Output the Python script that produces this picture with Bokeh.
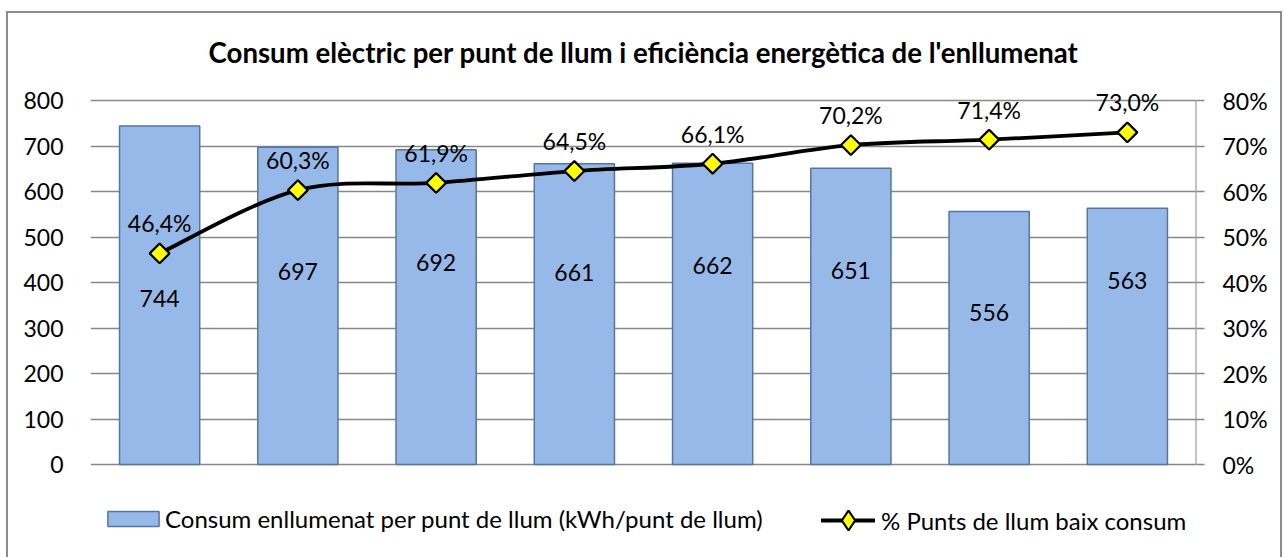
import math
from bokeh.plotting import figure
from bokeh.models import (Range1d, LinearAxis, FixedTicker, PrintfTickFormatter,
                          Legend, LegendItem, ColumnDataSource)
from bokeh.core.properties import value
from bokeh.embed import file_html
from bokeh.resources import INLINE

# ---------------- data ----------------
title_text = "Consum elèctric per punt de llum i eficiència energètica de l'enllumenat"
bar_name = "Consum enllumenat per punt de llum (kWh/punt de llum)"
line_name = "% Punts de llum baix consum"
consum = [744, 697, 692, 661, 662, 651, 556, 563]
pct = [46.4, 60.3, 61.9, 64.5, 66.1, 70.2, 71.4, 73.0]
bar_label_y = [365, 425, 445, 423, 437, 426, 335, 404]
left_ticks = [0, 100, 200, 300, 400, 500, 600, 700, 800]
right_ticks = [0, 10, 20, 30, 40, 50, 60, 70, 80]

FONT = "Lato"
GRID = "#878787"
n = len(consum)
xs = [i + 0.5 for i in range(n)]

# layout (pixels): frame top 75, 800 at 100, value 0 at 464, frame bottom 548
FTOP, TOP, ZERO, BOTTOM = 75, 100, 464, 548
ext_lo = (BOTTOM - ZERO) / (ZERO - TOP)
ext_hi = (TOP - FTOP) / (ZERO - TOP)
lmax, rmax = left_ticks[-1], right_ticks[-1]

p = figure(width=1284, height=557, x_range=Range1d(0, n),
           y_range=Range1d(-lmax * ext_lo, lmax * (1 + ext_hi)),
           output_backend="svg", toolbar_location=None, x_axis_location=None,
           min_border_left=90, min_border_right=88, min_border_top=FTOP,
           min_border_bottom=557 - BOTTOM)
p.border_fill_color = None
p.background_fill_color = "white"
p.background_fill_alpha = 0
p.outline_line_color = None
p.styles = {
    "background": (
        "linear-gradient(#8c8c8c,#8c8c8c) left 6px top 11px / 1275px 2px no-repeat,"
        "linear-gradient(#8c8c8c,#8c8c8c) left 6px top 11px / 2px 100% no-repeat,"
        "linear-gradient(#8c8c8c,#8c8c8c) left 1280px top 11px / 2px 100% no-repeat"
    )
}

p.title.text = title_text
p.title.align = "center"
p.title.text_font = FONT
p.title.text_font_size = "27.6px"
p.title.text_font_style = "bold"
p.title.text_color = "black"
p.title.standoff = 13

# left axis
yax = p.yaxis[0]
yax.ticker = FixedTicker(ticks=left_ticks)
yax.axis_line_color = None
yax.major_tick_line_color = None
yax.minor_tick_line_color = None
yax.major_label_standoff = 21
yax.major_label_text_font = FONT
yax.major_label_text_font_size = "23px"
yax.major_label_text_color = "black"

p.xgrid.visible = False
p.ygrid.ticker = FixedTicker(ticks=left_ticks)
p.ygrid.grid_line_color = GRID
p.ygrid.grid_line_width = 1.4

# right axis
p.extra_y_ranges = {"pct": Range1d(-rmax * ext_lo, rmax * (1 + ext_hi))}
rax = LinearAxis(y_range_name="pct", ticker=FixedTicker(ticks=right_ticks),
                 formatter=PrintfTickFormatter(format="%d%%"))
rax.axis_line_color = None
rax.major_tick_line_color = GRID
rax.major_tick_line_width = 1.4
rax.major_tick_in = 0
rax.major_tick_out = 8
rax.minor_tick_line_color = None
rax.major_label_standoff = 18
rax.major_label_text_font = FONT
rax.major_label_text_font_size = "23px"
rax.major_label_text_color = "black"
p.add_layout(rax, "right")
# visible part of the right axis line (0% .. 80%)
p.segment(x0=[n], y0=[right_ticks[0]], x1=[n], y1=[rmax], line_color=GRID,
          line_width=2, y_range_name="pct")

# bars
src = ColumnDataSource(dict(x=xs, top=consum, ly=bar_label_y,
                            txt=[str(v) for v in consum]))
bars = p.vbar(x="x", top="top", bottom=0, width=0.58, source=src,
              fill_color="#96B9E9", line_color="#56769F", line_width=1.5)
p.text(x="x", y="ly", text="txt", source=src, text_align="center",
       text_baseline="middle", text_font=value(FONT), text_font_size="23px",
       text_color="black")

# smooth line (cubic Bezier segments through the data points)
P = list(zip(xs, pct))
bx0, by0, bx1, by1, cx0, cy0, cx1, cy1 = ([] for _ in range(8))
for i in range(n - 1):
    a = P[i - 1] if i > 0 else P[i]
    b = P[i]
    c = P[i + 1]
    d = P[i + 2] if i + 2 < n else P[i + 1]
    bx0.append(b[0]); by0.append(b[1]); bx1.append(c[0]); by1.append(c[1])
    cx0.append(b[0] + (c[0] - a[0]) / 6); cy0.append(b[1] + (c[1] - a[1]) / 6)
    cx1.append(c[0] - (d[0] - b[0]) / 6); cy1.append(c[1] - (d[1] - b[1]) / 6)
curve = p.bezier(x0=bx0, y0=by0, x1=bx1, y1=by1, cx0=cx0, cy0=cy0, cx1=cx1, cy1=cy1,
                 line_color="black", line_width=3.8, line_cap="round",
                 y_range_name="pct")
# diamond used by the legend (hidden beneath the rotated-square markers)
legend_marker = p.scatter(x=xs, y=pct, marker="diamond", size=10,
                          fill_color="#FFFF00", line_color="black", line_width=2.2,
                          y_range_name="pct")
pts = p.scatter(x=xs, y=pct, marker="square", angle=math.pi / 4, size=14,
                fill_color="#FFFF00", line_color="black", line_width=2.2,
                y_range_name="pct")
p.text(x=xs, y=pct, text=[f"{v:.1f}".replace(".", ",") + "%" for v in pct],
       y_offset=-30, text_align="center", text_baseline="middle",
       text_font=value(FONT), text_font_size="23px", text_color="black",
       y_range_name="pct")

# legends (inside the extended frame, below the value axis zero)
common = dict(orientation="horizontal", padding=0, margin=0, border_line_color=None,
              background_fill_alpha=0,
              label_text_font=FONT, label_text_font_size="24px",
              label_text_color="black", label_height=26)
leg1 = Legend(items=[LegendItem(label=bar_name, renderers=[bars])],
              location=(11, 15), glyph_width=64, glyph_height=19,
              label_standoff=0, **common)
leg2 = Legend(items=[LegendItem(label=line_name, renderers=[curve, legend_marker])],
              location=(731, 3), glyph_width=54, glyph_height=50,
              label_standoff=6, **common)
p.add_layout(leg1, "center")
p.add_layout(leg2, "center")

open("out.html", "w").write(file_html(p, INLINE))
